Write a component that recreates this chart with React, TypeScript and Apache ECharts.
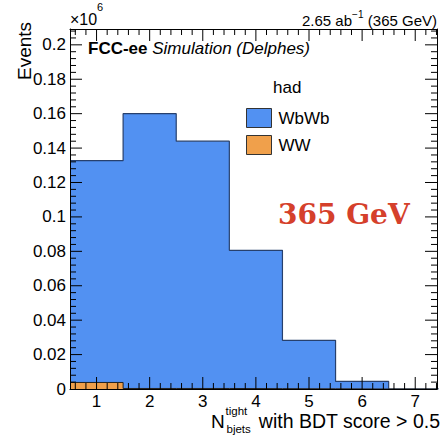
import React, { useEffect, useRef } from 'react';
import * as echarts from 'echarts';

// ---- data ----
const binCenters = [1, 2, 3, 4, 5, 6, 7];
const wbwbValues = [0.1289, 0.1597, 0.1437, 0.0804, 0.0282, 0.0044, 0];
const wwValues = [0.0038, 0.0003, 0.0003, 0.0002, 0.0001, 0, 0];
const xTickLabels = [1, 2, 3, 4, 5, 6, 7];
const yTickLabels = [0, 0.02, 0.04, 0.06, 0.08, 0.1, 0.12, 0.14, 0.16, 0.18, 0.2];
const seriesNames = ['WbWb', 'WW'];

const X_MIN = 0.5;
const X_MAX = 7.41;
const Y_MIN = 0;
const Y_MAX = 0.2092;

const GRID = { left: 70, right: 5, top: 29, bottom: 46 };
const W = 442;
const H = 435;

const BLUE = '#5291f2';
const ORANGE = '#f0a04b';
const BLUE_LINE = '#27406d';
const FONT = 'Liberation Sans';

// minor tick positions (axis decoration)
const xMinor: number[] = [];
for (let k = 1; k < 40; k++) {
  const v = Math.round(k * 0.2 * 1000) / 1000;
  if (k % 5 !== 0 && v > X_MIN && v < X_MAX) xMinor.push(v);
}
const yMinor: number[] = [];
for (let k = 1; k < 60; k++) {
  const v = Math.round(k * 0.004 * 10000) / 10000;
  if (k % 5 !== 0 && v < Y_MAX) yMinor.push(v);
}

// tick segments drawn as a broken line series (inside ticks on all four sides)
const xPerPx = (X_MAX - X_MIN) / (W - GRID.left - GRID.right);
const yPerPx = (Y_MAX - Y_MIN) / (H - GRID.top - GRID.bottom);
const tickSegments: any[] = [];
const addXTick = (v: number, len: number) => {
  const d = len * yPerPx;
  tickSegments.push([v, Y_MIN], [v, Y_MIN + d], [v, '-']);
  tickSegments.push([v, Y_MAX], [v, Y_MAX - d], [v, '-']);
};
const addYTick = (v: number, len: number) => {
  const d = len * xPerPx;
  tickSegments.push([X_MIN, v], [X_MIN + d, v], ['-', v]);
  tickSegments.push([X_MAX, v], [X_MAX - d, v], ['-', v]);
};
xTickLabels.forEach((v) => addXTick(v, 12));
xMinor.forEach((v) => addXTick(v, 6));
yTickLabels.filter((v) => v > 0).forEach((v) => addYTick(v, 12));
yMinor.forEach((v) => addYTick(v, 6));

const axisLine = { show: true, onZero: false, lineStyle: { color: '#000', width: 1 } };

const mkX = (position: string, labels: boolean) => ({
  type: 'value',
  min: X_MIN,
  max: X_MAX,
  position,
  z: 10,
  axisLine,
  axisTick: { show: false },
  axisLabel: labels
    ? { show: true, customValues: xTickLabels, margin: 4, fontSize: 17, fontFamily: FONT, color: '#000' }
    : { show: false },
  splitLine: { show: false },
});

const mkY = (position: string, labels: boolean) => ({
  type: 'value',
  min: Y_MIN,
  max: Y_MAX,
  position,
  z: 10,
  axisLine,
  axisTick: { show: false },
  axisLabel: labels
    ? {
        show: true,
        customValues: yTickLabels,
        margin: 4,
        fontSize: 17,
        fontFamily: FONT,
        color: '#000',
        formatter: (v: number) => String(parseFloat(Number(v).toFixed(3))),
      }
    : { show: false },
  splitLine: { show: false },
});

const stepLine = (tops: number[]) => {
  const pts: number[][] = [];
  binCenters.forEach((c, i) => {
    pts.push([c - 0.5, tops[i]]);
    pts.push([c + 0.5, tops[i]]);
  });
  return pts;
};

const textGraphics: any[] = [
  { type: 'text', x: 70, y: 19.5, style: { text: '×10', font: `16px "${FONT}"`, fill: '#000', verticalAlign: 'middle' } },
  { type: 'text', x: 97, y: 7, style: { text: '6', font: `11px "${FONT}"`, fill: '#000', verticalAlign: 'middle' } },
  { type: 'text', x: 437, y: 20, style: { text: ' (365 GeV)', font: `15px "${FONT}"`, fill: '#000', align: 'right', verticalAlign: 'middle' } },
  { type: 'text', x: 363.5, y: 14, style: { text: '−1', font: `10px "${FONT}"`, fill: '#000', align: 'right', verticalAlign: 'middle' } },
  { type: 'text', x: 352, y: 20, style: { text: '2.65 ab', font: `15px "${FONT}"`, fill: '#000', align: 'right', verticalAlign: 'middle' } },
  {
    type: 'text',
    x: 24,
    y: 51,
    rotation: Math.PI / 2,
    style: { text: 'Events', font: `19px "${FONT}"`, fill: '#000', align: 'center', verticalAlign: 'middle' },
  },
  {
    type: 'text',
    x: 88,
    y: 48.5,
    style: {
      text: '{b|FCC-ee} {i|Simulation (Delphes)}',
      font: `17px "${FONT}"`,
      fill: '#000',
      verticalAlign: 'middle',
      rich: {
        b: { fontWeight: 'bold', fontSize: 17, fontFamily: FONT, fill: '#000' },
        i: { fontStyle: 'italic', fontSize: 17, fontFamily: FONT, fill: '#000' },
      },
    },
  },
  { type: 'text', x: 273, y: 87, style: { text: 'had', font: `17px "${FONT}"`, fill: '#000', verticalAlign: 'middle' } },
  {
    type: 'text',
    x: 278,
    y: 214,
    style: { text: '365 GeV', font: `bold 28px "DejaVu Serif"`, fill: '#d5402b', verticalAlign: 'middle' },
  },
  { type: 'text', x: 211, y: 421, style: { text: 'N', font: `19px "${FONT}"`, fill: '#000', verticalAlign: 'middle' } },
  { type: 'text', x: 225.5, y: 411, style: { text: 'tight', font: `11.5px "${FONT}"`, fill: '#000', verticalAlign: 'middle' } },
  { type: 'text', x: 226.5, y: 429, style: { text: 'bjets', font: `11.5px "${FONT}"`, fill: '#000', verticalAlign: 'middle' } },
  {
    type: 'text',
    x: 440,
    y: 421,
    style: { text: 'with BDT score > 0.5', font: `19.5px "${FONT}"`, fill: '#000', align: 'right', verticalAlign: 'middle' },
  },
];

export default function App() {
  const ref = useRef<HTMLDivElement>(null);
  useEffect(() => {
    if (!ref.current) return;
    const chart = echarts.init(ref.current, null, { renderer: 'svg' });
    const totals = binCenters.map((_, i) => wbwbValues[i] + wwValues[i]);

    chart.setOption({
      animation: false,
      grid: { ...GRID, containLabel: false },
      xAxis: [mkX('bottom', true), mkX('top', false)],
      yAxis: [mkY('left', true), mkY('right', false)],
      legend: {
        data: seriesNames,
        orient: 'vertical',
        left: 241,
        top: 103,
        itemWidth: 25,
        itemHeight: 19,
        itemGap: 7,
        icon: 'rect',
        itemStyle: { borderColor: '#333', borderWidth: 1 },
        textStyle: { fontSize: 17, fontFamily: FONT, color: '#000', padding: [0, 0, 0, 2] },
        selectedMode: false,
      },
      series: [
        {
          type: 'line',
          name: seriesNames[0],
          xAxisIndex: 0,
          yAxisIndex: 0,
          data: stepLine(totals),
          symbol: 'none',
          showSymbol: false,
          itemStyle: { color: BLUE },
          lineStyle: { color: BLUE_LINE, width: 1.2 },
          areaStyle: { color: BLUE, opacity: 1, origin: 'start' },
          z: 3,
          silent: true,
        },
        {
          type: 'line',
          name: seriesNames[1],
          xAxisIndex: 0,
          yAxisIndex: 0,
          data: stepLine(wwValues),
          symbol: 'none',
          showSymbol: false,
          itemStyle: { color: ORANGE },
          lineStyle: { color: '#222', width: 1 },
          areaStyle: { color: ORANGE, opacity: 1, origin: 'start' },
          z: 4,
          silent: true,
        },
        {
          type: 'line',
          name: 'axis ticks',
          xAxisIndex: 0,
          yAxisIndex: 0,
          data: tickSegments,
          connectNulls: false,
          symbol: 'none',
          showSymbol: false,
          itemStyle: { color: '#000' },
          lineStyle: { color: '#000', width: 1 },
          clip: false,
          z: 12,
          silent: true,
        },
      ],
      graphic: textGraphics,
    });
    return () => chart.dispose();
  }, []);
  return <div ref={ref} style={{ position: 'absolute', left: 0, top: 0, width: W, height: H }} />;
}
